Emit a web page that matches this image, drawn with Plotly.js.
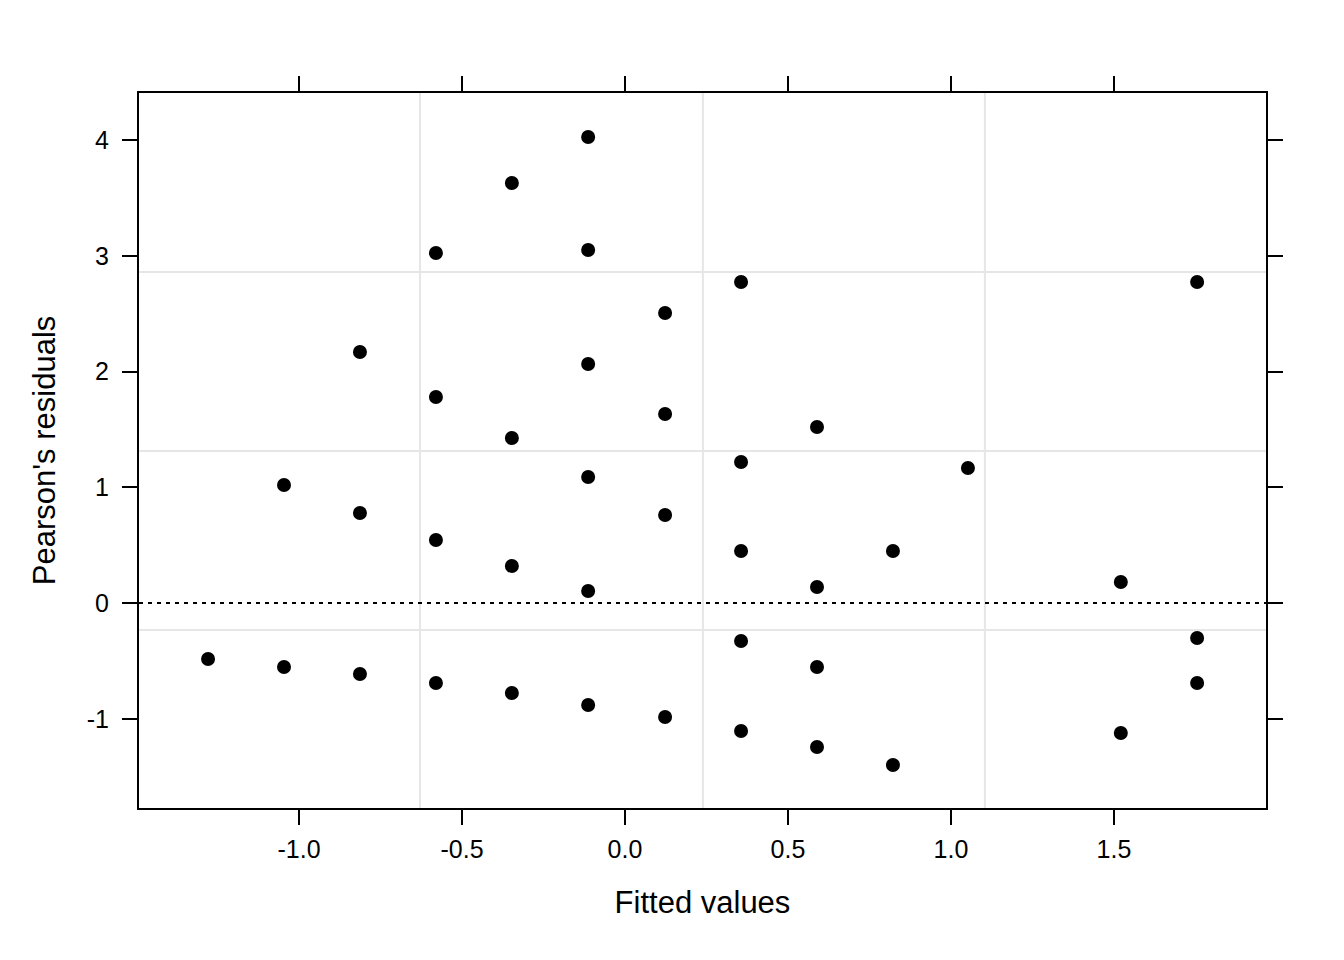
<!DOCTYPE html>
<html>
<head>
<meta charset="utf-8">
<script src="https://cdn.plot.ly/plotly-3.0.1.min.js"></script>
<style>body{margin:0;background:#fff}#chart{width:1344px;height:960px}</style>
</head>
<body>
<div id="chart"></div>
<script>
const fitted = [-1.279,
  -1.046,-1.046,
  -0.813,-0.813,-0.813,
  -0.580,-0.580,-0.580,-0.580,
  -0.347,-0.347,-0.347,-0.347,
  -0.113,-0.113,-0.113,-0.113,-0.113,-0.113,
  0.123,0.123,0.123,0.123,
  0.356,0.356,0.356,0.356,0.356,
  0.589,0.589,0.589,0.589,
  0.822,0.822,
  1.052,
  1.521,1.521,
  1.755,1.755,1.755];
const residuals = [-0.484,
  1.019,-0.553,
  2.168,0.778,-0.613,
  3.024,1.780,0.544,-0.691,
  3.628,1.425,0.320,-0.778,
  4.026,3.050,2.065,1.089,0.104,-0.881,
  2.505,1.633,0.760,-0.985,
  2.773,1.218,0.449,-0.328,-1.106,
  1.521,0.138,-0.553,-1.244,
  0.449,-1.400,
  1.166,
  0.181,-1.123,
  2.773,-0.302,-0.691];
const xTickVals = [-1.0,-0.5,0.0,0.5,1.0,1.5];
const xTickText = ["-1.0","-0.5","0.0","0.5","1.0","1.5"];
const yTickVals = [-1,0,1,2,3,4];
const yTickText = ["-1","0","1","2","3","4"];
const xGrid = [-0.629,0.239,1.104];
const yGrid = [-0.233,1.313,2.860];
const xRange = [-1.4908,1.9663];
const yRange = [-1.771,4.406];

const shapes = [];
xGrid.forEach(v => shapes.push({type:'line',xref:'x',yref:'paper',x0:v,x1:v,y0:0,y1:1,layer:'below',line:{color:'#e6e6e6',width:2}}));
yGrid.forEach(v => shapes.push({type:'line',xref:'paper',yref:'y',x0:0,x1:1,y0:v,y1:v,layer:'below',line:{color:'#e6e6e6',width:2}}));
shapes.push({type:'line',xref:'paper',yref:'y',x0:0,x1:1,y0:0,y1:0,line:{color:'#000',width:2,dash:'4px,5px'}});

const font = {family:'Liberation Sans, Arial, sans-serif', color:'#000'};
const axisCommon = {showgrid:false, zeroline:false, showline:true, linecolor:'#000', linewidth:2,
  ticks:'outside', ticklen:15, tickwidth:2, tickcolor:'#000', mirror:false};

const data = [{
  x: fitted, y: residuals, type:'scatter', mode:'markers',
  marker:{color:'#000', size:14, line:{width:0}}, xaxis:'x', yaxis:'y', hoverinfo:'x+y'
},{
  x: [xRange[0]], y:[yRange[0]], type:'scatter', mode:'markers', marker:{opacity:0}, xaxis:'x2', yaxis:'y2', showlegend:false, hoverinfo:'skip'
}];

const layout = {
  width:1344, height:960,
  margin:{l:139, r:78, t:93, b:152},
  paper_bgcolor:'#fff', plot_bgcolor:'#fff',
  showlegend:false,
  font: font,
  xaxis: Object.assign({}, axisCommon, {range:xRange, tickvals:xTickVals, ticktext:xTickText,
    tickfont:{size:25, family:font.family, color:'#000'}, ticklabelstandoff:3,
    title:{text:'Fitted values', font:{size:31, family:font.family, color:'#000'}, standoff:29}}),
  yaxis: Object.assign({}, axisCommon, {range:yRange, tickvals:yTickVals, ticktext:yTickText,
    tickfont:{size:25, family:font.family, color:'#000'}, ticklabelstandoff:8,
    title:{text:"Pearson's residuals", font:{size:31, family:font.family, color:'#000'}, standoff:22}}),
  xaxis2: Object.assign({}, axisCommon, {range:xRange, tickvals:xTickVals, overlaying:'x', side:'top', showticklabels:false, anchor:'y2'}),
  yaxis2: Object.assign({}, axisCommon, {range:yRange, tickvals:yTickVals, overlaying:'y', side:'right', showticklabels:false, anchor:'x2'}),
  shapes: shapes
};
Plotly.newPlot('chart', data, layout, {displayModeBar:false, staticPlot:true});
</script>
</body>
</html>
